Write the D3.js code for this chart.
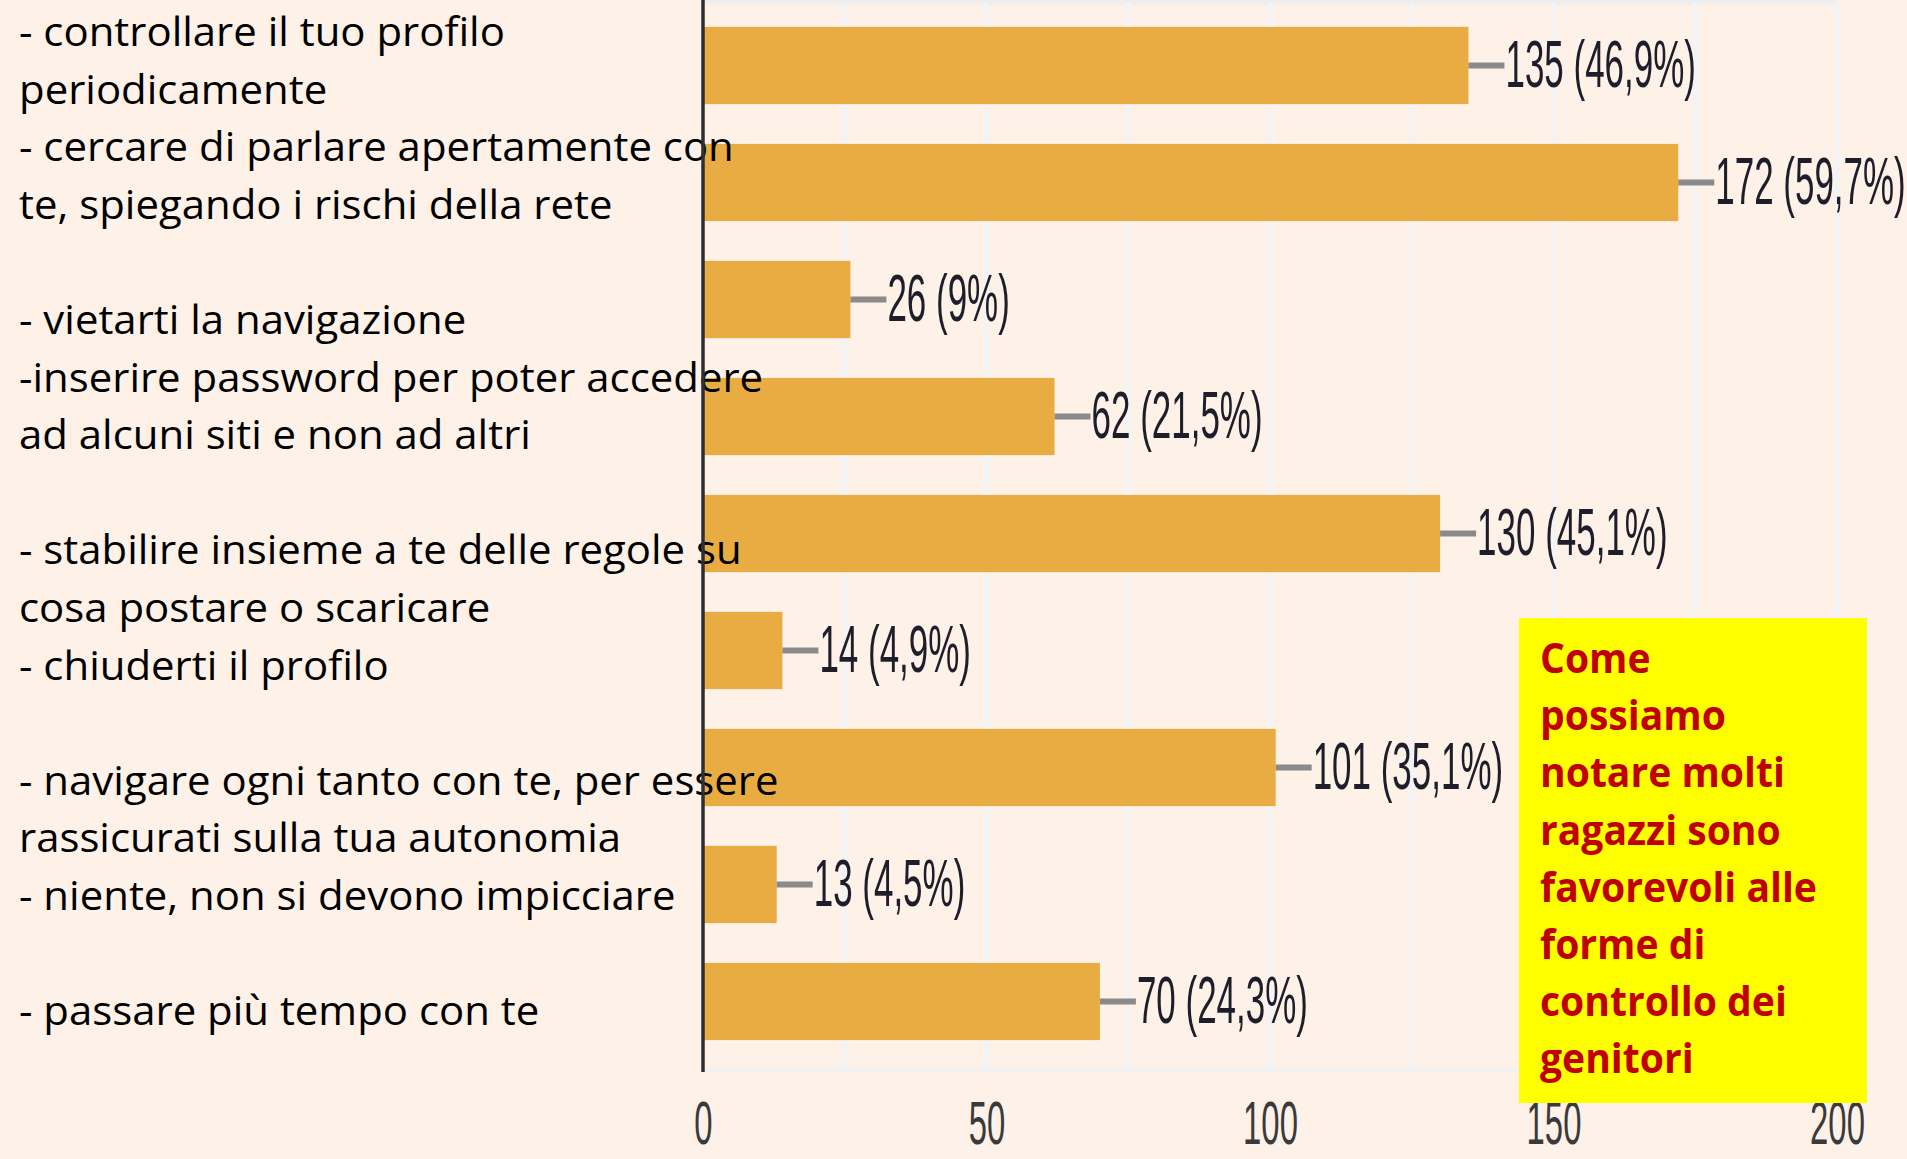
<!DOCTYPE html>
<html>
<head>
<meta charset="utf-8">
<script src="https://cdn.jsdelivr.net/npm/d3@7"></script>
<style>
    html, body { margin: 0; padding: 0; background: #fdf1e8; }
    svg { display: block; }
</style>
</head>
<body>
<svg id="chart"></svg>
<script>
(function() {
    // bar data, top to bottom
    const barValues = [135, 172, 26, 62, 130, 14, 101, 13, 70];
    const barPercents = ['46,9%', '59,7%', '9%', '21,5%', '45,1%', '4,9%', '35,1%', '4,5%', '24,3%'];
    const xTicks = [0, 50, 100, 150, 200];
    const gridValues = [25, 50, 75, 100, 125, 150, 175, 200];

    // text box on the left (one entry per line, blanks included)
    const labelLines = [
        '- controllare il tuo profilo',
        'periodicamente',
        '- cercare di parlare apertamente con',
        'te, spiegando i rischi della rete',
        '',
        '- vietarti la navigazione',
        '-inserire password per poter accedere',
        'ad alcuni siti e non ad altri',
        '',
        '- stabilire insieme a te delle regole su',
        'cosa postare o scaricare',
        '- chiuderti il profilo',
        '',
        '- navigare ogni tanto con te, per essere',
        'rassicurati sulla tua autonomia',
        '- niente, non si devono impicciare',
        '',
        '- passare più tempo con te'
    ];

    const noteLines = [
        'Come',
        'possiamo',
        'notare molti',
        'ragazzi sono',
        'favorevoli alle',
        'forme di',
        'controllo dei',
        'genitori'
    ];

    const width = 1907, height = 1159;
    const svg = d3.select('#chart').attr('width', width).attr('height', height);

    svg.append('rect')
        .attr('width', width).attr('height', height)
        .attr('fill', '#fdf1e8');

    const x = d3.scaleLinear().domain([0, 200]).range([703, 1837]);
    const y = d3.scaleBand()
        .domain(d3.range(barValues.length))
        .range([7, 1060])
        .paddingInner(0.34)
        .paddingOuter(0.17);

    const plotTop = 2, plotBottom = 1070;
    const condense = 0.53;

    // top and bottom frame lines
    svg.append('line')
        .attr('x1', x(0)).attr('x2', x(200))
        .attr('y1', plotTop).attr('y2', plotTop)
        .attr('stroke', '#eeeeee').attr('stroke-width', 5);
    svg.append('line')
        .attr('x1', x(0)).attr('x2', x(200))
        .attr('y1', plotBottom).attr('y2', plotBottom)
        .attr('stroke', '#f1f1f1').attr('stroke-width', 5);

    // vertical gridlines
    svg.append('g')
        .selectAll('line')
        .data(gridValues)
        .enter()
        .append('line')
        .attr('x1', d => x(d)).attr('x2', d => x(d))
        .attr('y1', plotTop).attr('y2', plotBottom)
        .attr('stroke', '#f1f3f5')
        .attr('stroke-width', 5);

    // bars
    svg.append('g')
        .selectAll('rect')
        .data(barValues)
        .enter()
        .append('rect')
        .attr('x', x(0))
        .attr('y', (d, i) => y(i))
        .attr('width', d => x(d) - x(0))
        .attr('height', y.bandwidth())
        .attr('fill', '#e8ac42');

    // leader lines + value labels
    const labels = svg.append('g');
    labels.selectAll('line')
        .data(barValues)
        .enter()
        .append('line')
        .attr('x1', d => x(d))
        .attr('x2', d => x(d) + 36)
        .attr('y1', (d, i) => y(i) + y.bandwidth() / 2)
        .attr('y2', (d, i) => y(i) + y.bandwidth() / 2)
        .attr('stroke', '#8a8a8a')
        .attr('stroke-width', 6);
    labels.selectAll('text')
        .data(barValues)
        .enter()
        .append('text')
        .attr('transform', (d, i) => 'translate(' + (x(d) + 37) + ',' + (y(i) + y.bandwidth() / 2 + 21) + ') scale(' + condense + ',1)')
        .attr('font-family', '"Liberation Sans", Arial, sans-serif')
        .attr('font-size', 66)
        .attr('fill', '#1e1e2a')
        .text((d, i) => d + ' (' + barPercents[i] + ')');

    // x axis
    const xAxis = svg.append('g')
        .attr('transform', 'translate(0,' + plotBottom + ')')
        .call(d3.axisBottom(x).tickValues(xTicks).tickSize(0).tickPadding(0));
    xAxis.select('.domain').remove();
    xAxis.selectAll('text')
        .attr('y', 74)
        .attr('dy', 0)
        .attr('transform', 'scale(' + condense + ',1)')
        .attr('font-family', '"Liberation Sans", Arial, sans-serif')
        .attr('font-size', 62)
        .attr('fill', '#3a3a3a');

    // left text box (drawn over the bars, as in the slide)
    const left = svg.append('g');
    const leftText = left.selectAll('text')
        .data(labelLines)
        .enter()
        .append('text')
        .attr('x', 0)
        .attr('y', (d, i) => 46 + i * 57.6)
        .attr('font-family', '"Open Sans", "Noto Sans", sans-serif')
        .attr('font-size', 41)
        .attr('fill', '#000')
        .text(d => d);
    const refLen = leftText.filter((d, i) => i === 0).node().getComputedTextLength();
    left.attr('transform', 'translate(19,0) scale(' + (486 / refLen) + ',1)');

    // y axis line
    svg.append('line')
        .attr('x1', x(0)).attr('x2', x(0))
        .attr('y1', 0).attr('y2', plotBottom + 2)
        .attr('stroke', '#2e2e34')
        .attr('stroke-width', 3.5);

    // yellow note
    svg.append('rect')
        .attr('x', 1519).attr('y', 618)
        .attr('width', 348).attr('height', 485)
        .attr('fill', '#ffff00');
    const note = svg.append('g');
    const noteText = note.selectAll('text')
        .data(noteLines)
        .enter()
        .append('text')
        .attr('x', 0)
        .attr('y', (d, i) => 673 + i * 57.2)
        .attr('font-family', '"Open Sans", "Noto Sans", sans-serif')
        .attr('font-weight', 'bold')
        .attr('font-size', 41)
        .attr('fill', '#c00000')
        .text(d => d);
    const noteLen = noteText.filter((d, i) => i === 4).node().getComputedTextLength();
    note.attr('transform', 'translate(1540,0) scale(' + (277 / noteLen) + ',1)');
})();
</script>
</body>
</html>
